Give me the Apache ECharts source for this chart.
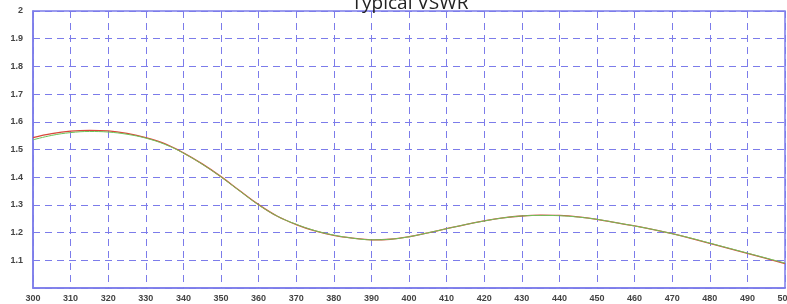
<!DOCTYPE html>
<html>
<head>
<meta charset="utf-8">
<script src="https://cdn.jsdelivr.net/npm/echarts@6/dist/echarts.min.js"></script>
<style>
  html, body { margin: 0; padding: 0; background: #fff; }
  #chart { width: 787px; height: 304px; }
</style>
</head>
<body>
<div id="chart"></div>
<script>
// frequency (MHz) and measured VSWR, two traces
const freqs = [300, 305, 310, 315, 320, 325, 330, 335, 340, 345, 350, 355, 360, 365, 370, 375, 380, 385, 390, 395, 400,
  405, 410, 415, 420, 425, 430, 435, 440, 445, 450, 455, 460, 465, 470, 475, 480, 485, 490, 495, 500];
const vswrRed = [1.543, 1.557, 1.566, 1.569, 1.567, 1.558, 1.543, 1.521, 1.488, 1.448, 1.402, 1.351, 1.301, 1.259, 1.229, 1.206, 1.19, 1.18, 1.174, 1.176, 1.185,
  1.199, 1.214, 1.229, 1.242, 1.253, 1.26, 1.263, 1.262, 1.257, 1.248, 1.236, 1.224, 1.211, 1.196, 1.179, 1.161, 1.143, 1.125, 1.107, 1.088];
const vswrGreen = [1.535, 1.551, 1.561, 1.565, 1.563, 1.555, 1.541, 1.519, 1.487, 1.447, 1.401, 1.35, 1.3, 1.259, 1.23, 1.207, 1.191, 1.18, 1.174, 1.176, 1.185,
  1.199, 1.214, 1.229, 1.242, 1.253, 1.26, 1.262, 1.261, 1.256, 1.248, 1.236, 1.224, 1.211, 1.196, 1.18, 1.162, 1.144, 1.126, 1.108, 1.09];

const pair = (xs, ys) => xs.map((x, i) => [x, ys[i]]);

const chart = echarts.init(document.getElementById('chart'));
const gridColor = '#7c7cea';
const labelStyle = { color: '#444', fontSize: 9, fontWeight: 'bold', fontFamily: 'Arial' };

chart.setOption({
  animation: false,
  title: {
    text: 'Typical VSWR',
    left: 405,
    textAlign: 'center',
    top: -11,
    textStyle: { fontSize: 19, fontWeight: 'normal', color: '#222', fontFamily: 'Open Sans' }
  },
  grid: {
    left: 33, right: 2, top: 11, bottom: 16,
    outerBoundsMode: 'none',
    show: true, borderColor: gridColor, borderWidth: 1.5, backgroundColor: 'transparent'
  },
  xAxis: {
    type: 'value',
    min: 300, max: 500, interval: 10,
    axisLine: { lineStyle: { color: gridColor, width: 1.5 } },
    axisTick: { show: false },
    axisLabel: Object.assign({ margin: 6 }, labelStyle),
    splitLine: { lineStyle: { color: gridColor, type: [7, 5], width: 1 } }
  },
  yAxis: {
    type: 'value',
    min: 1, max: 2, interval: 0.1,
    axisLine: { show: true, lineStyle: { color: gridColor, width: 1.5 } },
    axisTick: { show: false },
    axisLabel: Object.assign({
      margin: 10,
      formatter: v => (v === 1 ? '' : (Math.round(v * 10) / 10).toString())
    }, labelStyle),
    splitLine: { lineStyle: { color: gridColor, type: [7, 5], width: 1 } }
  },
  series: [
    {
      type: 'line', smooth: 0.4, symbol: 'none',
      data: pair(freqs, vswrRed),
      lineStyle: { color: '#d9473a', width: 1.3 }
    },
    {
      type: 'line', smooth: 0.4, symbol: 'none',
      data: pair(freqs, vswrGreen),
      lineStyle: { color: '#6cc35a', width: 1 }
    }
  ]
});
</script>
</body>
</html>
